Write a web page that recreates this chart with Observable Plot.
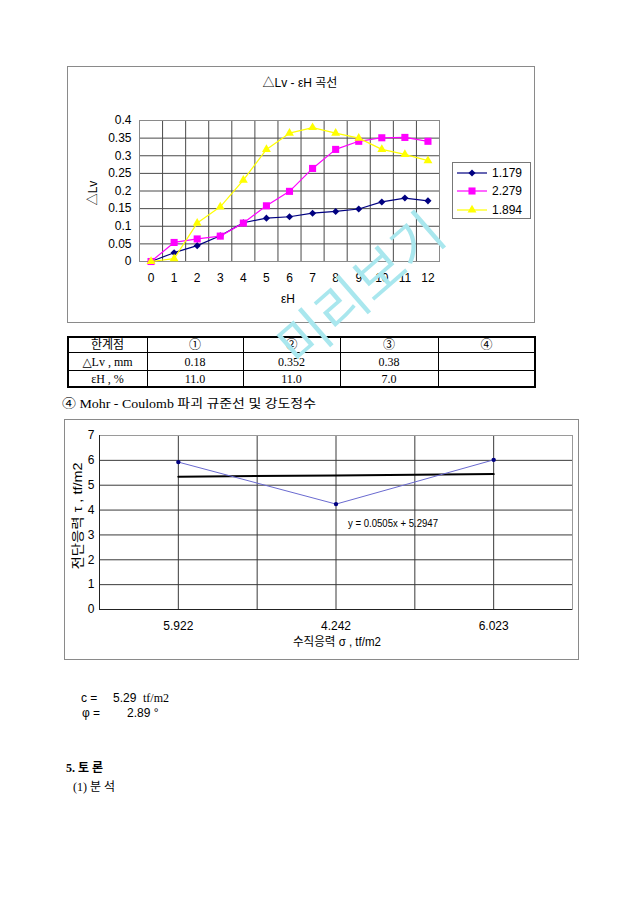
<!DOCTYPE html>
<html><head><meta charset="utf-8">
<script src="https://cdn.jsdelivr.net/npm/d3@7"></script>
<script src="https://cdn.jsdelivr.net/npm/@observablehq/plot@0.6"></script>
<style>
html,body{margin:0;padding:0;background:#fff;}
#page{position:relative;width:640px;height:905px;overflow:hidden;background:#fff;}
</style></head><body><div id="page"></div>
<script>
// ---------- Chart 1 data : ΔLv - εH curves ----------
const eH = [0,1,2,3,4,5,6,7,8,9,10,11,12];
const dLv_1179 = [0,0.025,0.045,0.073,0.11,0.123,0.127,0.137,0.142,0.149,0.169,0.18,0.172];
const dLv_2279 = [0,0.054,0.064,0.072,0.109,0.158,0.199,0.264,0.318,0.341,0.351,0.352,0.341];
const dLv_1894 = [0,0.008,0.109,0.155,0.231,0.318,0.364,0.38,0.364,0.35,0.318,0.304,0.286];
const seriesNames = ["1.179","2.279","1.894"];
const seriesColors = ["#000080","#ff00ff","#ffff00"];
const seriesSymbols = ["diamond2","square","triangle"];
const yTicks1 = [0,0.05,0.1,0.15,0.2,0.25,0.3,0.35,0.4];

// ---------- Chart 2 data : Mohr-Coulomb ----------
const sigmaLabels = ["5.922","4.242","6.023"];
const tau = [5.93,4.24,6.02];
const trendSlope = 0.0505, trendIntercept = 5.2947;
const yTicks2 = [0,1,2,3,4,5,6,7];

// ---------- Table ----------
const tableHeader = ["한계점","①","②","③","④"];
const tableRows = [["△Lv , mm","0.18","0.352","0.38",""],["εH , %","11.0","11.0","7.0",""]];

const SANS = "'Liberation Sans','Noto Sans CJK KR',sans-serif";
const SERIF = "'Liberation Serif','DejaVu Serif','Noto Sans CJK KR',serif";
const page = document.getElementById("page");

// ----- Chart 1 -----
const allSeries = [dLv_1179, dLv_2279, dLv_1894];
const long1 = [];
allSeries.forEach((arr,i)=>arr.forEach((v,j)=>long1.push({x:eH[j], y:v, s:seriesNames[i]})));
const bounds1 = d3.range(eH.length+1).map(k=>k-0.5);
const dotR = [3.2, 4, 3.3];
const marks1 = [
  Plot.ruleY(yTicks1, {stroke:"#4a4a4a", strokeWidth:1}),
  Plot.ruleX(bounds1, {stroke:"#4a4a4a", strokeWidth:1}),
  Plot.frame({stroke:"#8a8a8a"})
];
seriesNames.forEach((name,i)=>{
  const d = long1.filter(r=>r.s===name);
  marks1.push(Plot.line(d, {x:"x", y:"y", stroke:seriesColors[i], strokeWidth:1.2}));
  marks1.push(Plot.dot(d, {x:"x", y:"y", symbol:()=>seriesSymbols[i], fill:seriesColors[i], r:dotR[i], stroke:"none"}));
});
const chart1 = Plot.plot({
  width:467, height:256, marginLeft:72, marginRight:95, marginTop:54, marginBottom:61,
  style:{fontFamily:SANS, fontSize:"12px", color:"#000", background:"transparent", overflow:"visible"},
  x:{domain:[-0.5,12.5], ticks:eH, tickSize:0, tickPadding:12, tickFormat:d=>String(d), label:null},
  y:{domain:[0,0.4], ticks:yTicks1, tickSize:0, tickPadding:8, tickFormat:d=>String(d), label:null},
  symbol:{domain:seriesSymbols, range:seriesSymbols},
  marks:marks1
});
chart1.style.position="absolute"; chart1.style.left="67px"; chart1.style.top="66px";
page.appendChild(chart1);

// ----- Chart 2 -----
const idx2 = sigmaLabels.map((_,i)=>i+1);
const pts2 = idx2.map((k,i)=>({x:k, y:tau[i]}));
const trend2 = idx2.map(k=>({x:k, y:trendSlope*k+trendIntercept}));
const gridX2 = d3.range(1, 3.01, 0.5);
const chart2 = Plot.plot({
  width:514, height:240, marginLeft:35, marginRight:6, marginTop:16, marginBottom:50,
  style:{fontFamily:SANS, fontSize:"12px", color:"#000", background:"transparent", overflow:"visible"},
  x:{domain:[0.5,3.5], ticks:idx2, tickSize:0, tickPadding:12, tickFormat:d=>sigmaLabels[d-1], label:null},
  y:{domain:[0,7], ticks:yTicks2, tickSize:0, tickPadding:5, tickFormat:d=>String(d), label:null},
  marks:[
    Plot.ruleY(yTicks2.filter(d=>d>0 && d<7), {stroke:"#3a3a3a"}),
    Plot.ruleX(gridX2, {stroke:"#3a3a3a"}),
    Plot.frame({stroke:"#9a9a9a"}),
    Plot.ruleX([0.5], {stroke:"#222"}),
    Plot.ruleY([0], {stroke:"#222"}),
    Plot.line(trend2, {x:"x", y:"y", stroke:"#000", strokeWidth:2}),
    Plot.line(pts2, {x:"x", y:"y", stroke:"#6a6ad0", strokeWidth:1}),
    Plot.dot(pts2, {x:"x", y:"y", r:2.2, fill:"#000080", stroke:"none"})
  ]
});
chart2.style.position="absolute"; chart2.style.left="64px"; chart2.style.top="419px";
page.appendChild(chart2);

// ----- Overlay: frames, titles, legend, table, texts -----
const ov = d3.select(page).append("svg").attr("width",640).attr("height",905)
  .style("position","absolute").style("left","0px").style("top","0px").style("pointer-events","none");
function T(x,y,s,o={}){
  const t = ov.append("text").attr("x",x).attr("y",y).text(s)
    .attr("font-family",o.ff||SANS).attr("font-size",o.fs||12).attr("fill",o.fill||"#000")
    .attr("text-anchor",o.anchor||"middle").attr("dominant-baseline",o.db||"central");
  if(o.rot) t.attr("transform",`rotate(${o.rot},${x},${y})`);
  if(o.len) t.attr("textLength",o.len).attr("lengthAdjust","spacingAndGlyphs");
  if(o.fw) t.attr("font-weight",o.fw);
  return t;
}
// chart frames
ov.append("rect").attr("x",67.5).attr("y",66.5).attr("width",467).attr("height",256).attr("fill","none").attr("stroke","#8a8a8a");
ov.append("rect").attr("x",64.5).attr("y",419.5).attr("width",514).attr("height",240).attr("fill","none").attr("stroke","#8a8a8a");

// chart 1 texts
T(300,83,"△Lv - εH 곡선",{fs:12});
T(93,193,"△Lv",{fs:12,rot:-90});
T(288,299,"εH",{fs:12});
// legend
ov.append("rect").attr("x",452.5).attr("y",162.5).attr("width",78).attr("height",56).attr("fill","#fff").attr("stroke","#777");
const legY = [173,191,210];
const symMap = {diamond2:d3.symbolDiamond2, square:d3.symbolSquare, triangle:d3.symbolTriangle};
seriesNames.forEach((name,i)=>{
  ov.append("line").attr("x1",457).attr("x2",487).attr("y1",legY[i]).attr("y2",legY[i]).attr("stroke",seriesColors[i]).attr("stroke-width",1.2);
  const r = dotR[i];
  ov.append("path").attr("d",d3.symbol(symMap[seriesSymbols[i]], Math.PI*r*r)()).attr("transform",`translate(472,${legY[i]})`).attr("fill",seriesColors[i]);
  T(492,legY[i],name,{fs:12,anchor:"start"});
});

// chart 2 texts
T(393,523,"y = 0.0505x + 5.2947",{fs:11,len:90});
T(337,642,"수직응력 σ , tf/m2",{fs:12,len:88});
T(77,516,"전단응력 τ , tf/m2",{fs:13,rot:-90,len:107});

// table
const colX = [68,147,243,340,438,535];
const rowY = [337,352,370,387];
const tg = ov.append("g");
rowY.slice(1,-1).forEach(y=>tg.append("line").attr("x1",colX[0]).attr("x2",colX[5]).attr("y1",y+0.5).attr("y2",y+0.5).attr("stroke","#000"));
colX.slice(1,-1).forEach(x=>tg.append("line").attr("x1",x+0.5).attr("x2",x+0.5).attr("y1",rowY[0]).attr("y2",rowY[3]).attr("stroke","#000"));
tg.append("rect").attr("x",colX[0]).attr("y",rowY[0]).attr("width",colX[5]-colX[0]).attr("height",rowY[3]-rowY[0]).attr("fill","none").attr("stroke","#000").attr("stroke-width",2);
[tableHeader, ...tableRows].forEach((row,ri)=>{
  row.forEach((cell,ci)=>{
    if(cell==="") return;
    T((colX[ci]+colX[ci+1])/2, (rowY[ri]+rowY[ri+1])/2+0.5, cell, {fs:12, ff:SERIF});
  });
});
T(62,404,"④ Mohr - Coulomb 파괴 규준선 및 강도정수",{fs:12,ff:SERIF,anchor:"start",len:254});

// c, phi
T(81,698,"c =",{fs:12,anchor:"start"});
T(113,698,"5.29",{fs:12,anchor:"start"});
T(143,698,"tf/m2",{fs:12,anchor:"start",ff:SERIF});
T(82,713,"φ =",{fs:12,anchor:"start"});
T(127,713,"2.89 °",{fs:12,anchor:"start"});
T(66,768,"5. 토 론",{fs:12,anchor:"start",ff:SERIF,fw:"bold"});
T(73,787,"(1) 분 석",{fs:12,anchor:"start",ff:SERIF});

// watermark
T(358,286,"미리보기",{fs:54,ff:"'Noto Sans CJK KR',sans-serif",fill:"#a9e7ee",rot:-41});
</script></body></html>
